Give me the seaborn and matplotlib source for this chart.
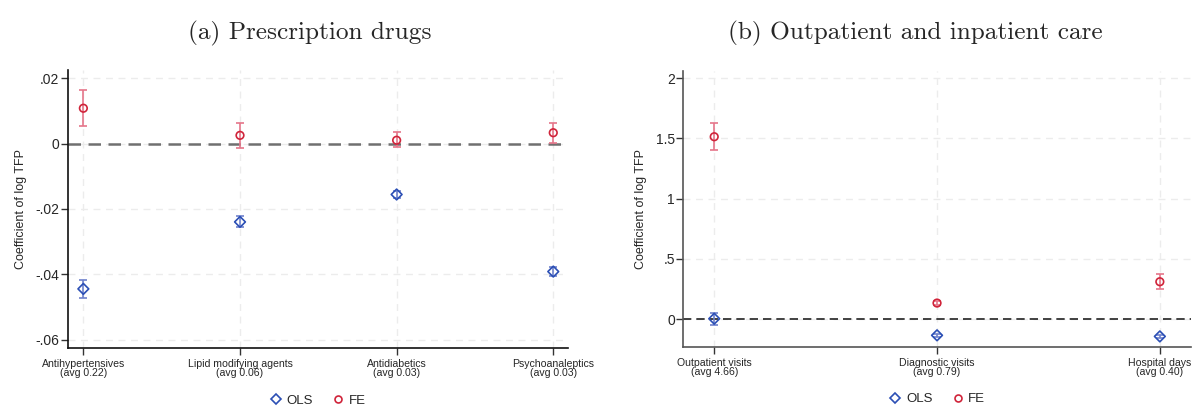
import matplotlib
matplotlib.use("Agg")
import matplotlib.pyplot as plt
from matplotlib.lines import Line2D
import seaborn as sns
import pandas as pd
import numpy as np

sns.set_style("white")
plt.rcParams['font.family'] = ['Liberation Sans', 'DejaVu Sans']

# ---- Panel (a): Prescription drugs ----
cats_a = ["Antihypertensives\n(avg 0.22)", "Lipid modifying agents\n(avg 0.06)",
          "Antidiabetics\n(avg 0.03)", "Psychoanaleptics\n(avg 0.03)"]
ols_a = [-0.0445, -0.0240, -0.0156, -0.0392]
ols_a_lo = [-0.0474, -0.0257, -0.0168, -0.0407]
ols_a_hi = [-0.0417, -0.0221, -0.0144, -0.0379]
fe_a = [0.0108, 0.0025, 0.0010, 0.0033]
fe_a_lo = [0.0053, -0.0013, -0.0012, 0.0002]
fe_a_hi = [0.0164, 0.0062, 0.0035, 0.0062]
yticks_a = [-0.06, -0.04, -0.02, 0.0, 0.02]
yticklabels_a = ["-.06", "-.04", "-.02", "0", ".02"]

# ---- Panel (b): Outpatient and inpatient care ----
cats_b = ["Outpatient visits\n(avg 4.66)", "Diagnostic visits\n(avg 0.79)",
          "Hospital days\n(avg 0.40)"]
ols_b = [0.003, -0.135, -0.144]
ols_b_lo = [-0.052, -0.150, -0.158]
ols_b_hi = [0.052, -0.120, -0.130]
fe_b = [1.514, 0.133, 0.310]
fe_b_lo = [1.407, 0.113, 0.247]
fe_b_hi = [1.625, 0.153, 0.371]
yticks_b = [0, 0.5, 1, 1.5, 2]
yticklabels_b = ["0", ".5", "1", "1.5", "2"]

titles = ["(a) Prescription drugs", "(b) Outpatient and inpatient care"]

OLS_C = "#2b4fb5"
OLS_EC = "#6f82cc"
FE_C = "#d0243a"
FE_EC = "#e5768a"

fig = plt.figure(figsize=(11.92, 4.07), dpi=100)
axA = fig.add_axes([0.0568, 0.1457, 0.4197, 0.6823])
axB = fig.add_axes([0.5732, 0.148, 0.4258, 0.6776])


def draw(ax, cats, ols, ols_lo, ols_hi, fe, fe_lo, fe_hi, yt, ytl, ylim, xlim,
         zero_color, zero_lw, spine_color):
    x = np.arange(len(cats))
    df = pd.DataFrame({
        "x": np.concatenate([x, x]),
        "y": ols + fe,
        "lo": ols_lo + fe_lo,
        "hi": ols_hi + fe_hi,
        "model": ["OLS"] * len(cats) + ["FE"] * len(cats),
    })
    ax.set_xlim(*xlim)
    ax.set_ylim(*ylim)
    for v in yt:
        ax.axhline(v, color="#ececec", lw=1.0, ls=(0, (5, 4)), zorder=0)
    for v in x:
        ax.axvline(v, color="#ececec", lw=1.0, ls=(0, (5, 4)), zorder=0)
    ax.axhline(0, color=zero_color, lw=zero_lw, ls=(0, (5, 3)), zorder=1)
    for m, ec in [("OLS", OLS_EC), ("FE", FE_EC)]:
        d = df[df.model == m]
        ax.errorbar(d["x"], d["y"], yerr=[d["y"] - d["lo"], d["hi"] - d["y"]],
                    fmt="none", ecolor=ec, elinewidth=1.2, capsize=3,
                    capthick=1.2, zorder=2)
    sns.scatterplot(data=df, x="x", y="y", hue="model", style="model",
                    palette={"OLS": OLS_C, "FE": FE_C},
                    markers={"OLS": "D", "FE": "o"}, s=30,
                    linewidth=1.2, legend=False, ax=ax, zorder=3)
    # hollow markers: set edgecolors
    for coll in ax.collections:
        fc = coll.get_facecolors()
        if len(fc):
            coll.set_edgecolors(fc)
            coll.set_facecolors("none")
    ax.set_xticks(x)
    ax.set_xticklabels(cats, fontsize=7.6, linespacing=0.95)
    ax.set_yticks(yt)
    ax.set_yticklabels(ytl, fontsize=10)
    ax.set_xlabel("")
    ax.set_ylabel("Coefficient of log TFP", fontsize=9, labelpad=6)
    ax.tick_params(axis="both", which="both", length=5, width=1,
                   color="#333333", bottom=True, left=True, pad=1)
    ax.tick_params(axis="x", pad=3)
    for s in ["top", "right"]:
        ax.spines[s].set_visible(False)
    for s in ["left", "bottom"]:
        ax.spines[s].set_color(spine_color)
        ax.spines[s].set_linewidth(1.2)
    handles = [Line2D([], [], marker="D", ls="none", mfc="none", mec=OLS_C,
                      ms=5, mew=1.2, label="OLS"),
               Line2D([], [], marker="o", ls="none", mfc="none", mec=FE_C,
                      ms=5, mew=1.2, label="FE")]
    ax.legend(handles=handles, ncol=2, frameon=False, loc="center",
              bbox_to_anchor=(0.5, -0.19), fontsize=9.5, handletextpad=0.3,
              columnspacing=1.4, handlelength=1.0)


draw(axA, cats_a, ols_a, ols_a_lo, ols_a_hi, fe_a, fe_a_lo, fe_a_hi,
     yticks_a, yticklabels_a, (-0.0625, 0.0225), (-0.1, 3.094), "#707070",
     1.8, "#111111")
draw(axB, cats_b, ols_b, ols_b_lo, ols_b_hi, fe_b, fe_b_lo, fe_b_hi,
     yticks_b, yticklabels_b, (-0.23, 2.06), (-0.139, 2.139), "#222222",
     1.2, "#555555")

fig.text(310 / 1192, 1 - 33 / 407, titles[0], ha="center", va="center",
         fontsize=18.2, family="cmr10")
fig.text(915 / 1192, 1 - 33 / 407, titles[1], ha="center", va="center",
         fontsize=18.2, family="cmr10")

fig.savefig("out.png", dpi=100)
